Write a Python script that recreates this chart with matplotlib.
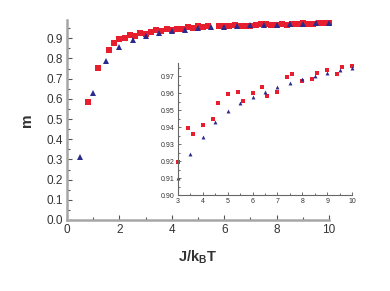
import matplotlib
matplotlib.use("Agg")
import matplotlib.pyplot as plt
from matplotlib.ticker import MultipleLocator

plt.rcParams['font.family'] = ['Liberation Sans', 'DejaVu Sans']
plt.rcParams['mathtext.fontset'] = 'custom'
plt.rcParams['mathtext.rm'] = 'Liberation Sans'
plt.rcParams['mathtext.bf'] = 'Liberation Sans:bold'

# main panel data
red_x = [0.8, 1.2, 1.6, 1.8, 2.0, 2.2, 2.4, 2.6, 2.8, 3.0, 3.2, 3.4, 3.6, 3.8,
         4.0, 4.2, 4.4, 4.6, 4.8, 5.0, 5.2, 5.4, 5.8, 6.0, 6.2, 6.4, 6.6, 6.8,
         7.0, 7.2, 7.4, 7.6, 7.8, 8.0, 8.2, 8.4, 8.6, 8.8, 9.0, 9.2, 9.4, 9.6,
         9.8, 10.0]
red_m = [0.586, 0.755, 0.840, 0.875, 0.897, 0.900, 0.918, 0.911, 0.925, 0.920,
         0.933, 0.939, 0.936, 0.945, 0.941, 0.948, 0.945, 0.954, 0.950, 0.959,
         0.955, 0.960, 0.959, 0.960, 0.962, 0.964, 0.959, 0.962, 0.961, 0.966,
         0.969, 0.971, 0.967, 0.968, 0.970, 0.968, 0.972, 0.970, 0.974, 0.972,
         0.971, 0.975, 0.974, 0.976]
blue_x = [0.5, 1.0, 1.5, 2.0, 2.5, 3.0, 3.5, 4.0, 4.5, 5.0, 5.5, 6.0, 6.5, 7.0,
          7.5, 8.0, 8.5, 9.0, 9.5, 10.0]
blue_m = [0.314, 0.628, 0.789, 0.858, 0.890, 0.911, 0.926, 0.934, 0.943, 0.949,
          0.954, 0.958, 0.961, 0.964, 0.966, 0.968, 0.970, 0.972, 0.9735, 0.975]

# inset data
in_red_x = [3.0, 3.4, 3.6, 4.0, 4.4, 4.6, 5.0, 5.4, 5.6, 6.0, 6.4, 6.6, 7.0,
            7.4, 7.6, 8.0, 8.4, 8.6, 9.0, 9.4, 9.6, 10.0]
in_red_m = [0.9196, 0.9393, 0.9362, 0.9415, 0.9446, 0.9544, 0.9596, 0.9606,
            0.9553, 0.9600, 0.9639, 0.9585, 0.9606, 0.9696, 0.9712, 0.9675,
            0.9684, 0.9722, 0.9737, 0.9712, 0.9757, 0.9763]
in_blue_x = [3.0, 3.5, 4.0, 4.5, 5.0, 5.5, 6.0, 6.5, 7.0, 7.5, 8.0, 8.5, 9.0,
             9.5, 10.0]
in_blue_m = [0.910, 0.924, 0.9344, 0.943, 0.9493, 0.954, 0.9579, 0.961, 0.9637,
             0.9663, 0.9682, 0.9702, 0.972, 0.9735, 0.9749]

red = '#e61e2d'
blue = '#2a2a8c'
spine_gray = '#a6a6a6'
txt = '#333333'

fig = plt.figure(figsize=(3.9, 2.91), dpi=100)

ax = fig.add_axes([0.1718, 0.244, 0.6718, 0.687])
ax.plot(red_x, red_m, 's', color=red, ms=3.8, mew=0, clip_on=False)
ax.plot(blue_x, blue_m, '^', color=blue, ms=4.2, mew=0, clip_on=False)
ax.set_xlim(0, 10)
ax.set_ylim(0, 0.99)
ax.xaxis.set_major_locator(MultipleLocator(2))
ax.xaxis.set_minor_locator(MultipleLocator(1))
ax.yaxis.set_major_locator(MultipleLocator(0.1))
ax.yaxis.set_minor_locator(MultipleLocator(0.05))
ax.yaxis.set_major_formatter(plt.FuncFormatter(lambda v, p: f'{v:.1f}'))
for s in ['top', 'right']:
    ax.spines[s].set_visible(False)
for s in ['left', 'bottom']:
    ax.spines[s].set_color(spine_gray)
    ax.spines[s].set_linewidth(1.8)
ax.tick_params(which='both', direction='in', color='#555555', labelsize=8.5,
               labelcolor=txt, width=0.8)
ax.tick_params(which='major', length=3.5, pad=3)
ax.tick_params(which='minor', length=2)
ax.set_xlabel(r'J/k$_{\mathbf{B}}$T', fontsize=10.5, fontweight='bold',
              color=txt, labelpad=9)
ax.set_ylabel('m', fontsize=11, fontweight='bold', color=txt, labelpad=9)

ins = fig.add_axes([0.4556, 0.3289, 0.4477, 0.4557])
ins.patch.set_alpha(0)
ins.plot(in_red_x, in_red_m, 's', color=red, ms=2.4, mew=0, clip_on=False)
ins.plot(in_blue_x, in_blue_m, '^', color=blue, ms=2.8, mew=0, clip_on=False)
ins.set_xlim(3, 10)
ins.set_ylim(0.90, 0.978)
ins.xaxis.set_major_locator(MultipleLocator(1))
ins.xaxis.set_minor_locator(MultipleLocator(0.5))
ins.yaxis.set_major_locator(MultipleLocator(0.01))
ins.yaxis.set_minor_locator(MultipleLocator(0.005))
ins.yaxis.set_major_formatter(plt.FuncFormatter(lambda v, p: f'{v:.2f}'))
for s in ['top', 'right']:
    ins.spines[s].set_visible(False)
for s in ['left', 'bottom']:
    ins.spines[s].set_color('#666666')
    ins.spines[s].set_linewidth(0.8)
ins.tick_params(which='both', direction='in', color='#555555', labelsize=5,
                labelcolor=txt, width=0.6)
ins.tick_params(which='major', length=2.5, pad=2)
ins.tick_params(which='minor', length=1.5)

fig.savefig('out.png', dpi=100)
